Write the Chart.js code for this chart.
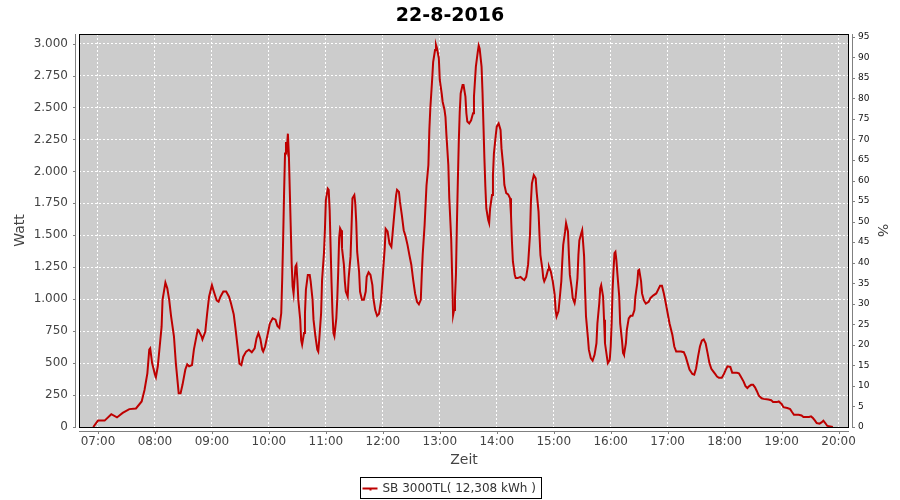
<!DOCTYPE html>
<html lang="de">
<head>
<meta charset="UTF-8">
<title>22-8-2016</title>
<script src="https://cdn.jsdelivr.net/npm/chart.js"></script>
<style>
  body { margin: 0; background: #fff; }
  #wrap { width: 900px; height: 500px; position: relative; }
</style>
</head>
<body>
<div id="wrap"><canvas id="chart"></canvas></div>
<script>
const chartTitle = '22-8-2016';
const seriesLabel = 'SB 3000TL( 12,308 kWh )';
const xTitle = 'Zeit';
const yTitle = 'Watt';
const y2Title = '%';

const hourTicks = ['07:00', '08:00', '09:00', '10:00', '11:00', '12:00', '13:00',
  '14:00', '15:00', '16:00', '17:00', '18:00', '19:00', '20:00'];
const wattTicks = [0, 250, 500, 750, 1000, 1250, 1500, 1750, 2000, 2250, 2500, 2750, 3000];
const wattTickLabels = ['0', '250', '500', '750', '1.000', '1.250', '1.500', '1.750',
  '2.000', '2.250', '2.500', '2.750', '3.000'];
const percentTicks = [0, 5, 10, 15, 20, 25, 30, 35, 40, 45, 50, 55, 60, 65, 70, 75, 80, 85, 90, 95];

// measurements, one line per hour
const times = [
  '06:55','07:00','07:07','07:14','07:20','07:26','07:33','07:40','07:46','07:49','07:52','07:54','07:55','07:57',
  '08:00','08:01','08:03','08:05','08:07','08:08','08:11','08:13','08:15','08:17','08:20','08:22','08:25','08:27','08:29','08:32','08:34','08:36','08:39','08:41','08:45','08:46','08:49','08:50','08:53','08:55','08:57',
  '09:00','09:02','09:05','09:07','09:09','09:12','09:15','09:18','09:20','09:23','09:25','09:27','09:29','09:31','09:33','09:36','09:39','09:42','09:45','09:47','09:49','09:51','09:53','09:54','09:56','09:59',
  '10:01','10:04','10:07','10:09','10:11','10:13','10:14','10:15','10:16','10:17','10:18','10:19','10:20','10:21','10:22','10:23','10:24','10:25','10:26','10:27','10:28','10:29','10:30','10:31','10:33','10:34','10:35','10:37','10:38','10:39','10:41','10:43','10:44','10:46','10:47','10:49','10:51','10:52','10:53','10:55','10:56','10:58','10:59',
  '11:00','11:02','11:03','11:04','11:05','11:06','11:07','11:08','11:09','11:11','11:12','11:13','11:14','11:15','11:16','11:17','11:19','11:20','11:21','11:23','11:24','11:26','11:27','11:28','11:30','11:31','11:32','11:33','11:35','11:36','11:38','11:40','11:42','11:43','11:45','11:47','11:49','11:50','11:52','11:54','11:56','11:58',
  '12:00','12:02','12:03','12:05','12:07','12:09','12:10','12:12','12:14','12:15','12:17','12:18','12:20','12:22','12:24','12:26','12:28','12:30','12:32','12:34','12:36','12:38','12:40','12:41','12:42','12:44','12:45','12:46','12:48','12:49','12:50','12:52','12:53','12:55','12:56','12:57','12:59',
  '13:00','13:02','13:03','13:05','13:06','13:07','13:09','13:10','13:12','13:13','13:14','13:15','13:16','13:17','13:18','13:19','13:20','13:21','13:22','13:24','13:25','13:27','13:28','13:29','13:31','13:33','13:35','13:36','13:38','13:40','13:41','13:42','13:44','13:45','13:46','13:47','13:48','13:49','13:51','13:52','13:53','13:55','13:56','13:57','13:59',
  '14:00','14:02','14:04','14:05','14:07','14:08','14:10','14:12','14:14','14:15','14:16','14:17','14:19','14:20','14:22','14:25','14:27','14:29','14:31','14:33','14:35','14:36','14:37','14:39','14:41','14:42','14:44','14:45','14:46','14:48','14:49','14:50','14:52','14:54','14:55','14:57','14:59',
  '15:01','15:02','15:03','15:05','15:06','15:08','15:09','15:10','15:12','15:13','15:15','15:16','15:17','15:19','15:20','15:22','15:23','15:25','15:26','15:27','15:29','15:30','15:32','15:33','15:34','15:36','15:37','15:39','15:41','15:43','15:45','15:46','15:48','15:49','15:50','15:52','15:53','15:54','15:56','15:57','15:59',
  '16:00','16:01','16:02','16:03','16:04','16:05','16:06','16:07','16:09','16:10','16:12','16:13','16:14','16:16','16:17','16:19','16:21','16:23','16:25','16:26','16:28','16:29','16:30','16:32','16:33','16:35','16:37','16:40','16:42','16:45','16:48','16:50','16:52','16:54','16:56','16:58',
  '17:00','17:02','17:05','17:07','17:09','17:12','17:14','17:17','17:19','17:21','17:23','17:26','17:28','17:30','17:32','17:34','17:36','17:38','17:40','17:42','17:44','17:46','17:48','17:50','17:52','17:54','17:57','17:59',
  '18:01','18:03','18:06','18:08','18:13','18:15','18:17','18:20','18:22','18:24','18:26','18:28','18:30','18:32','18:34','18:36','18:39','18:41','18:46','18:49','18:51','18:55','18:57',
  '19:00','19:02','19:06','19:09','19:11','19:13','19:18','19:21','19:23','19:29','19:31','19:33','19:35','19:37','19:40','19:42','19:44','19:46','19:48','19:50','19:54'
];
const watts = [
  0, 50, 50, 100, 75, 110, 140, 145, 200, 290, 420, 605, 615, 500,
  410, 390, 475, 630, 785, 995, 1130, 1085, 995, 865, 710, 500, 265, 265, 330, 450, 490, 475, 485, 605, 760, 755, 710, 685, 745, 890, 1020,
  1110, 1060, 990, 980, 1020, 1060, 1060, 1020, 970, 880, 760, 630, 495, 485, 550, 590, 605, 585, 615, 695, 735, 690, 605, 590, 630, 735,
  810, 850, 840, 790, 775, 890, 1150, 1465, 1830, 2140, 2230, 2180, 2295, 2140, 1855, 1570, 1280, 1100, 1045, 1150, 1255, 1270, 1150, 995, 840, 680, 645, 735, 890, 1075, 1190, 1190, 1140, 995, 840, 710, 605, 590, 680, 890, 1150, 1360, 1540,
  1775, 1865, 1855, 1700, 1410, 1125, 890, 735, 710, 850, 1000, 1210, 1480, 1555, 1540, 1400, 1270, 1140, 1060, 1020, 1165, 1335, 1555, 1790, 1815, 1750, 1605, 1370, 1215, 1060, 995, 995, 1060, 1175, 1210, 1190, 1110, 1010, 915, 870, 885, 980,
  1190, 1400, 1550, 1530, 1435, 1410, 1490, 1660, 1815, 1855, 1840, 1765, 1660, 1540, 1490, 1425, 1345, 1270, 1150, 1045, 980, 960, 995, 1190, 1350, 1580, 1735, 1890, 2050, 2325, 2490, 2725, 2855, 2950, 2990, 2965, 2885,
  2715, 2610, 2545, 2480, 2425, 2285, 2050, 1790, 1475, 1190, 875, 915, 1010, 1190, 1580, 1920, 2230, 2465, 2610, 2675, 2675, 2585, 2455, 2390, 2375, 2400, 2455, 2585, 2820, 2935, 2985, 2960, 2820, 2620, 2360, 2100, 1880, 1710, 1620, 1595, 1710, 1815, 1970, 2140, 2285,
  2350, 2375, 2325, 2180, 2025, 1895, 1830, 1820, 1790, 1660, 1450, 1295, 1190, 1165, 1165, 1175, 1160, 1150, 1175, 1270, 1505, 1765, 1905, 1970, 1945, 1840, 1685, 1505, 1345, 1240, 1165, 1140, 1175, 1230, 1255, 1215, 1140,
  1035, 915, 865, 905, 980, 1140, 1295, 1425, 1530, 1595, 1530, 1345, 1190, 1085, 1010, 970, 1010, 1165, 1345, 1460, 1515, 1540, 1335, 1075, 865, 700, 605, 540, 520, 565, 655, 810, 970, 1085, 1110, 1020, 840, 655, 550, 500, 525,
  630, 810, 1075, 1230, 1360, 1370, 1305, 1205, 1020, 810, 670, 580, 565, 655, 760, 850, 870, 870, 915, 1020, 1125, 1225, 1230, 1140, 1045, 990, 965, 980, 1010, 1030, 1045, 1075, 1105, 1105, 1045, 970,
  890, 810, 720, 630, 590, 590, 590, 585, 550, 500, 450, 415, 410, 460, 550, 630, 675, 685, 655, 580, 500, 455, 435, 415, 395, 385, 385, 410,
  445, 475, 470, 425, 425, 420, 395, 355, 320, 305, 320, 330, 330, 310, 280, 245, 225, 220, 215, 210, 195, 195, 200,
  180, 155, 148, 140, 117, 96, 96, 90, 78, 78, 83, 70, 52, 31, 26, 36, 49, 31, 10, 5, 0
];

if (times.length !== watts.length) console.warn('times/watts length mismatch', times.length, watts.length);

function toMinutes(s) {
  const [h, m] = s.split(':').map(Number);
  return h * 60 + m;
}

const AXIS_GREY = '#808080';
const LINE_RED = '#be0000';
const FONT = '"DejaVu Sans", sans-serif';

// JFreeChart-like frame: grey plot background, black outline, detached axis lines, title and boxed legend
const framePlugin = {
  id: 'frame',
  beforeDraw(chart) {
    const { ctx, chartArea: a } = chart;
    ctx.save();
    ctx.fillStyle = '#fff';
    ctx.fillRect(0, 0, chart.width, chart.height);
    ctx.fillStyle = '#cccccc';
    ctx.fillRect(a.left, a.top, a.right - a.left, a.bottom - a.top);
    ctx.restore();
  },
  afterDraw(chart) {
    const { ctx, chartArea: a, scales } = chart;
    ctx.save();

    ctx.strokeStyle = '#000';
    ctx.lineWidth = 1;
    ctx.strokeRect(a.left + 0.5, a.top + 0.5, a.right - a.left - 1, a.bottom - a.top);

    // detached axis lines with short outside ticks
    ctx.strokeStyle = AXIS_GREY;
    ctx.beginPath();
    const lx = a.left - 3.5, rx = a.right + 3.5, by = a.bottom + 4.5;
    ctx.moveTo(lx, a.top); ctx.lineTo(lx, a.bottom + 1);
    ctx.moveTo(rx, a.top); ctx.lineTo(rx, a.bottom + 1);
    ctx.moveTo(a.left, by); ctx.lineTo(a.right, by);
    wattTicks.forEach(v => {
      const y = Math.round(scales.y.getPixelForValue(v)) + 0.5;
      ctx.moveTo(lx - 2.5, y); ctx.lineTo(lx, y);
    });
    percentTicks.forEach(v => {
      const y = Math.round(scales.y2.getPixelForValue(v)) + 0.5;
      ctx.moveTo(rx, y); ctx.lineTo(rx + 2.5, y);
    });
    hourTicks.forEach(h => {
      const x = Math.round(scales.x.getPixelForValue(toMinutes(h))) + 0.5;
      ctx.moveTo(x, by); ctx.lineTo(x, by + 2.5);
    });
    ctx.stroke();

    // title
    ctx.fillStyle = '#000';
    ctx.font = 'bold 19px ' + FONT;
    ctx.textAlign = 'center';
    ctx.textBaseline = 'alphabetic';
    ctx.fillText(chartTitle, chart.width / 2, 21);

    // legend box, centred on the canvas
    ctx.font = '12px ' + FONT;
    const tw = ctx.measureText(seriesLabel).width;
    const bw = Math.round(tw + 28), bh = 21;
    const bx = Math.round(chart.width / 2 - bw / 2) + 0.5, byy = 477.5;
    ctx.strokeStyle = '#000';
    ctx.strokeRect(bx, byy, bw, bh);
    ctx.strokeStyle = LINE_RED;
    ctx.lineWidth = 2;
    ctx.beginPath();
    ctx.moveTo(bx + 2, byy + 11); ctx.lineTo(bx + 17, byy + 11);
    ctx.stroke();
    ctx.fillStyle = LINE_RED;
    ctx.fillRect(bx + 9, byy + 11, 2, 2);
    ctx.fillStyle = '#333';
    ctx.textAlign = 'left';
    ctx.textBaseline = 'middle';
    ctx.fillText(seriesLabel, bx + 22, byy + 11);

    ctx.restore();
  }
};

new Chart(document.getElementById('chart'), {
  type: 'line',
  data: {
    datasets: [{
      label: seriesLabel,
      data: times.map((t, i) => ({ x: toMinutes(t), y: watts[i] })),
      borderColor: LINE_RED,
      borderWidth: 2,
      pointRadius: 0,
      fill: false,
      tension: 0,
      xAxisID: 'x',
      yAxisID: 'y'
    }]
  },
  options: {
    responsive: true,
    maintainAspectRatio: false,
    animation: false,
    events: [],
    layout: { padding: { top: 34, left: 0, right: 0, bottom: 0 } },
    plugins: {
      legend: { display: false },
      title: { display: false },
      tooltip: { enabled: false }
    },
    scales: {
      x: {
        type: 'linear',
        position: 'bottom',
        min: 400,
        max: 1211,
        afterFit: s => { s.height = 73; },
        afterBuildTicks: s => { s.ticks = hourTicks.map(h => ({ value: toMinutes(h) })); },
        ticks: {
          autoSkip: false,
          maxRotation: 0,
          padding: 8,
          color: '#444',
          font: { family: FONT, size: 12 },
          callback: (v, i) => hourTicks[i]
        },
        grid: { color: '#fff', lineWidth: 1, drawTicks: false },
        border: { display: false, dash: [2, 2] },
        title: {
          display: true,
          text: xTitle,
          color: '#444',
          font: { family: FONT, size: 14 },
          padding: { top: 0, bottom: 31 }
        }
      },
      y: {
        type: 'linear',
        position: 'left',
        min: 0,
        max: 3075,
        afterFit: s => { s.width = 79; },
        afterBuildTicks: s => { s.ticks = wattTicks.map(v => ({ value: v })); },
        ticks: {
          padding: 11,
          color: '#444',
          font: { family: FONT, size: 12 },
          callback: (v, i) => wattTickLabels[i]
        },
        grid: { color: '#fff', lineWidth: 1, drawTicks: false },
        border: { display: false, dash: [2, 2] },
        title: {
          display: true,
          text: yTitle,
          color: '#444',
          font: { family: FONT, size: 14 },
          padding: { top: 12, bottom: 0 }
        }
      },
      y2: {
        type: 'linear',
        position: 'right',
        min: 0,
        max: 95.66,
        afterFit: s => { s.width = 51; },
        afterBuildTicks: s => { s.ticks = percentTicks.map(v => ({ value: v })); },
        ticks: {
          padding: 9,
          color: '#111',
          font: { family: FONT, size: 9 },
          callback: v => String(v)
        },
        grid: { display: false, drawTicks: false },
        border: { display: false },
        title: {
          display: true,
          text: y2Title,
          color: '#444',
          font: { family: FONT, size: 14 },
          padding: { top: 10, bottom: 0 }
        }
      }
    }
  },
  plugins: [framePlugin]
});
</script>
</body>
</html>
